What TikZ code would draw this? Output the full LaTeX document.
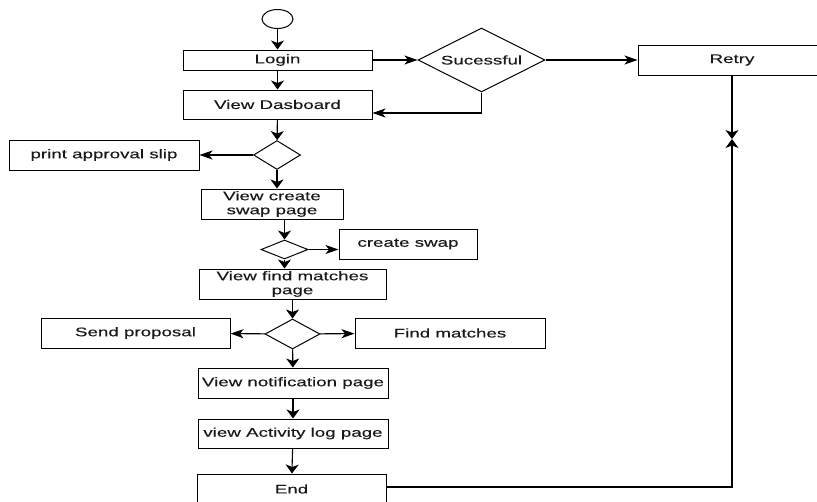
\documentclass[tikz,border=0pt]{standalone}
\usepackage{fontspec}
\setmainfont{Liberation Sans}[FakeStretch=1.5,FakeBold=0.3]
\usetikzlibrary{shapes.geometric,arrows.meta,calc}
\tikzstyle{action}=[draw, rectangle, line width=1pt, inner sep=0pt, align=center, text=black!90, font=\fontsize{12.5}{14}\selectfont]
\tikzstyle{decision}=[draw, diamond, aspect=2, inner sep=0pt, line width=1pt, text=black!90, font=\fontsize{12.5}{14}\selectfont]
\tikzstyle{startnode}=[draw, ellipse, inner sep=0pt, line width=1pt, minimum width=31pt, minimum height=19pt]
\tikzstyle{vflow}=[-{Stealth[length=9pt,width=13pt,inset=2.5pt]}, line width=1.1pt]
\tikzstyle{hflow}=[-{Stealth[length=13pt,width=9pt,inset=3.5pt]}, line width=1.1pt]
\newcommand{\actbox}[5][30]{% Syntax: [height] {name} {centre} {width} {text}
\node[action, minimum width=#4pt, minimum height=#1pt] (#2) at (#3) {#5};
}
\newcommand{\decbox}[5][]{% Syntax: [text] {name} {centre} {width} {height}
\node[decision, minimum width=#4pt, minimum height=#5pt] (#2) at (#3) {#1};
}

\begin{document}
\begin{tikzpicture}[x=1pt,y=-1pt]
	\useasboundingbox (0,0) rectangle (817,501);
	\clip (0,0) rectangle (817,501);
	% top row
	\node[startnode] (start) at (277.5,19) {};
	\actbox[20]{login}{277.5,60}{189}{Login}
	\actbox[29]{dash}{277.5,104.5}{189}{View Dasboard}
	\decbox[Sucessful]{succ}{481.5,60}{127}{64}
	\actbox{retry}{732,60}{188}{Retry}
	% left column
	\decbox{dec1}{277,155}{47}{29}
	\actbox{print}{104,155}{190}{print approval slip}
	\actbox{create}{272,204}{142}{View create\\swap page}
	\decbox{dec2}{284.5,249.5}{47}{19}
	\actbox{cswap}{408,244}{138}{create swap}
	\actbox{find}{292.5,284}{187}{View find matches\\page}
	\decbox{dec3}{292.5,334}{55}{30}
	\actbox{send}{135.5,333}{189}{Send proposal}
	\actbox{fm}{450,333}{190}{Find matches}
	\actbox{notif}{293,383}{190}{View notification page}
	\actbox[29]{act}{293,433.5}{190}{view Activity log page}
	\actbox{finish}{291.5,489}{189}{End}
	\coordinate (meet) at (732,139);
	% connectors
	\draw[vflow] (start) -- (login);
	\draw[vflow] (login) -- (dash);
	\draw[hflow] (login) -- (succ);
	\draw[hflow] (succ) -- (retry);
	\draw[hflow] (succ.south) |- ($(dash.east)+(0,8.5)$);
	\draw[vflow] (dash) -- (dec1);
	\draw[hflow] (dec1) -- (print);
	\draw[vflow] (dec1) -- (dec1 |- create.north);
	\draw[vflow] (dec2 |- create.south) -- (dec2);
	\draw[hflow] (dec2) -- (dec2 -| cswap.west);
	\draw[vflow] (dec2) -- (dec2 |- find.north);
	\draw[vflow] (find) -- (dec3);
	\draw[hflow] (dec3) -- (send);
	\draw[hflow] (dec3) -- (fm);
	\draw[vflow] (dec3) -- (notif);
	\draw[vflow] (notif) -- (act);
	\draw[vflow] (act) -- (finish);
	\draw[vflow] (retry) -- (meet);
	\draw[vflow] ($(finish.east)+(0,-2)$) -| (meet);
\end{tikzpicture}
\end{document}
